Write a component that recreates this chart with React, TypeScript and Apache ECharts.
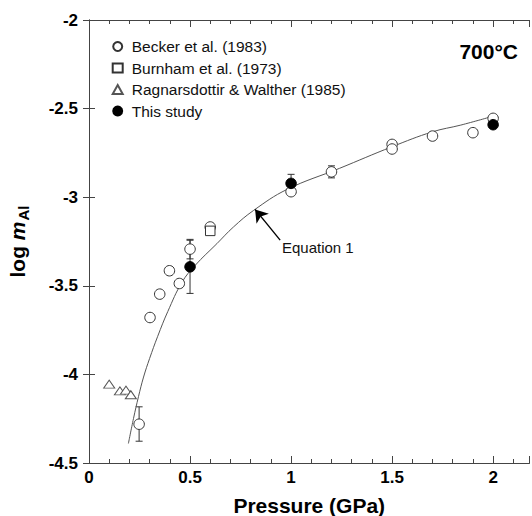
import React, { useEffect, useRef } from "react";
import * as echarts from "echarts";

const FONT = "'Liberation Sans', Arial, Helvetica, sans-serif";

// Pressure (GPa), log mAl
const beckerData: number[][] = [
  [0.248, -4.281], [0.302, -3.679], [0.35, -3.547], [0.398, -3.415], [0.447, -3.487],
  [0.5, -3.293], [0.6, -3.168], [1.0, -2.969], [1.2, -2.857], [1.5, -2.702],
  [1.5, -2.728], [1.7, -2.655], [1.9, -2.636], [2.0, -2.555],
];
const burnhamData: number[][] = [[0.6, -3.19]];
const ragnarsData: number[][] = [[0.1, -4.055], [0.153, -4.093], [0.183, -4.089], [0.207, -4.115]];
const thisStudyData: number[][] = [[0.5, -3.393], [1.0, -2.922], [2.0, -2.591]];

// error bars: [P, low, high]
const beckerErrors: number[][] = [[0.248, -4.377, -4.183], [0.5, -3.348, -3.238], [1.2, -2.891, -2.823]];
const thisStudyErrors: number[][] = [[0.5, -3.543, -3.243], [1.0, -2.972, -2.871]];

// Equation 1 curve
const curveData: number[][] = [
  [0.195, -4.39], [0.22, -4.25], [0.245, -4.125], [0.27, -4.015], [0.3, -3.91],
  [0.34, -3.785], [0.39, -3.645], [0.46, -3.48], [0.525, -3.385], [0.633, -3.262],
  [0.715, -3.168], [0.814, -3.075], [0.98, -2.956], [1.24, -2.837], [1.5, -2.715],
  [1.7, -2.631], [1.84, -2.593], [1.99, -2.546],
];

const arrowFrom = [0.946, -3.242];
const arrowTo = [0.822, -3.069];
const eqLabelAt = [0.955, -3.284];

const legendNames = ["Becker et al. (1983)", "Burnham et al. (1973)", "Ragnarsdottir & Walther (1985)", "This study"];
const xMin = 0, xMax = 2.18, yMin = -4.5, yMax = -2;

export default function App() {
  const ref = useRef<HTMLDivElement>(null);
  useEffect(() => {
    document.body.style.margin = "0";
    const chart = echarts.init(ref.current!, null, { renderer: "svg" });
    const axisLine = { show: true, lineStyle: { color: "#444", width: 1 } };
    const isMajor = (v: number) => Math.abs(v / 0.5 - Math.round(v / 0.5)) < 1e-6;
    const errRender = (params: any, api: any) => {
      const x = api.value(0);
      const lo = api.coord([x, api.value(1)]);
      const hi = api.coord([x, api.value(2)]);
      const cap = 3.5;
      const st = { stroke: "#333", lineWidth: 1 };
      return {
        type: "group",
        children: [
          { type: "line", shape: { x1: lo[0], y1: lo[1], x2: hi[0], y2: hi[1] }, style: st },
          { type: "line", shape: { x1: lo[0] - cap, y1: lo[1], x2: lo[0] + cap, y2: lo[1] }, style: st },
          { type: "line", shape: { x1: hi[0] - cap, y1: hi[1], x2: hi[0] + cap, y2: hi[1] }, style: st },
        ],
      };
    };
    const option: any = {
      animation: false,
      textStyle: { fontFamily: FONT },
      title: {
        text: "700°C", right: 9, top: 36,
        textStyle: { fontSize: 21, fontWeight: "bold", color: "#000", fontFamily: FONT },
      },
      legend: {
        orient: "vertical", left: 106.7, top: 33.5, itemGap: 5.5, itemWidth: 10, itemHeight: 9,
        data: [
          { name: legendNames[0], icon: "circle" },
          { name: legendNames[1], icon: "rect" },
          { name: legendNames[2], icon: "triangle" },
          { name: legendNames[3], icon: "circle" },
        ],
        textStyle: { fontSize: 15.5, color: "#111", fontFamily: FONT, padding: [0, 0, 0, 4] },
      },
      grid: { left: 89, top: 20, right: 2.5, bottom: 53, outerBoundsMode: "none", containLabel: false },
      xAxis: [
        {
          type: "value", position: "bottom", min: xMin, max: xMax, interval: 0.5,
          name: "Pressure (GPa)", nameLocation: "middle", nameGap: 32,
          nameTextStyle: { fontSize: 21, fontWeight: "bold", color: "#000", fontFamily: FONT },
          axisLine, splitLine: { show: false },
          axisTick: { show: true, inside: true, length: 7, lineStyle: { color: "#444" } },
          axisLabel: {
            fontSize: 17, fontWeight: "bold", color: "#000", margin: 6, fontFamily: FONT,
            formatter: (v: number) => (isMajor(v) ? String(v) : ""),
          },
        },
        {
          type: "value", position: "bottom", min: xMin, max: xMax, interval: 0.1,
          axisLine: { show: false }, splitLine: { show: false }, axisLabel: { show: false },
          axisTick: { show: true, inside: true, length: 4, lineStyle: { color: "#444" } },
        },
        {
          type: "value", position: "top", min: xMin, max: xMax, interval: 0.5,
          axisLine, splitLine: { show: false }, axisLabel: { show: false },
          axisTick: { show: true, inside: true, length: 7, lineStyle: { color: "#444" } },
        },
        {
          type: "value", position: "top", min: xMin, max: xMax, interval: 0.1,
          axisLine: { show: false }, splitLine: { show: false }, axisLabel: { show: false },
          axisTick: { show: true, inside: true, length: 4, lineStyle: { color: "#444" } },
        },
      ],
      yAxis: [
        {
          type: "value", position: "left", min: yMin, max: yMax, interval: 0.5,
          name: "{a|log }{b|m}{c|Al}", nameLocation: "middle", nameGap: 58, nameRotate: 90,
          nameTextStyle: {
            fontFamily: FONT,
            rich: {
              a: { fontSize: 21, fontWeight: "bold", color: "#000", fontFamily: FONT, verticalAlign: "top", lineHeight: 24 },
              b: { fontSize: 21, fontWeight: "bold", fontStyle: "italic", color: "#000", fontFamily: FONT, verticalAlign: "top", lineHeight: 24 },
              c: { fontSize: 15, fontWeight: "bold", color: "#000", fontFamily: FONT, verticalAlign: "top", lineHeight: 18, padding: [9, 0, 0, 1] },
            },
          },
          axisLine, splitLine: { show: false },
          axisTick: { show: true, inside: true, length: 6, lineStyle: { color: "#444" } },
          axisLabel: { fontSize: 17, fontWeight: "bold", color: "#000", margin: 11, fontFamily: FONT },
        },
        {
          type: "value", position: "right", min: yMin, max: yMax, interval: 0.5,
          axisLine, splitLine: { show: false }, axisLabel: { show: false },
          axisTick: { show: true, inside: true, length: 6, lineStyle: { color: "#444" } },
        },
      ],
      series: [
        {
          name: "Equation 1", type: "line", data: curveData, smooth: 0.4, showSymbol: false,
          lineStyle: { color: "#555", width: 1 }, silent: true, z: 1,
          markLine: {
            silent: true, symbol: ["none", "arrow"], symbolSize: 12, label: { show: false },
            lineStyle: { color: "#000", width: 1.4, type: "solid" },
            itemStyle: { color: "#000" },
            data: [[{ coord: arrowFrom }, { coord: arrowTo }]],
          },
          markPoint: {
            silent: true, symbol: "circle", symbolSize: 0,
            data: [{ coord: eqLabelAt }],
            label: {
              show: true, position: "right", distance: 0, formatter: "Equation 1",
              color: "#111", fontSize: 15, fontFamily: FONT,
            },
          },
        },
        {
          name: "errBecker", type: "custom", data: beckerErrors, renderItem: errRender,
          encode: { x: 0, y: [1, 2] }, silent: true, z: 1,
        },
        {
          name: "errThis", type: "custom", data: thisStudyErrors, renderItem: errRender,
          encode: { x: 0, y: [1, 2] }, silent: true, z: 1,
        },
        {
          name: legendNames[2], type: "scatter", data: ragnarsData, symbol: "triangle", symbolSize: [11, 8],
          itemStyle: { color: "#fff", borderColor: "#555", borderWidth: 1, opacity: 1 }, z: 3,
        },
        {
          name: legendNames[0], type: "scatter", data: beckerData, symbol: "circle", symbolSize: 10.5,
          itemStyle: { color: "#fff", borderColor: "#333", borderWidth: 1, opacity: 1 }, z: 3,
        },
        {
          name: legendNames[1], type: "scatter", data: burnhamData, symbol: "rect", symbolSize: 9.5,
          itemStyle: { color: "#fff", borderColor: "#333", borderWidth: 1, opacity: 1 }, z: 3,
        },
        {
          name: legendNames[3], type: "scatter", data: thisStudyData, symbol: "circle", symbolSize: 10.5,
          itemStyle: { color: "#000", borderColor: "#000", borderWidth: 1, opacity: 1 }, z: 3,
        },
      ],
    };
    chart.setOption(option);
    return () => chart.dispose();
  }, []);
  return <div ref={ref} style={{ width: 532, height: 516 }} />;
}
